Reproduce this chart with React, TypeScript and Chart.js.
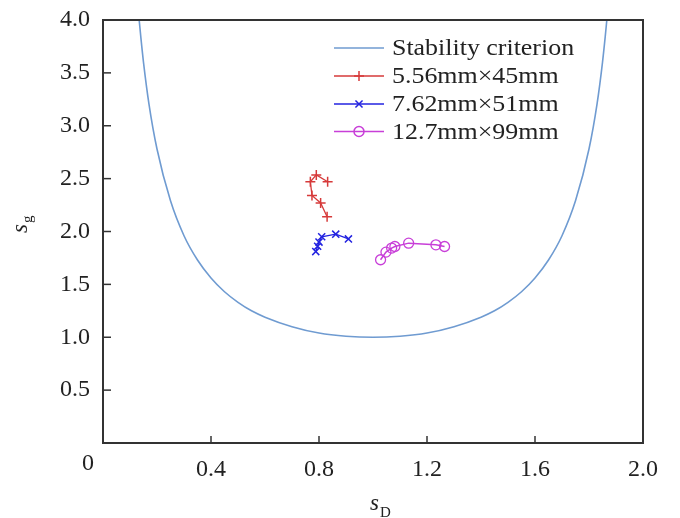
import React, { useEffect, useRef } from 'react';
import { Chart, registerables } from 'chart.js';
Chart.register(...registerables);

// Stability criterion curve
const criterionX = [0.134, 0.14, 0.15, 0.17, 0.2, 0.25, 0.3, 0.35, 0.4, 0.45, 0.5, 0.55, 0.6, 0.7, 0.8, 0.9, 1.0, 1.1, 1.2, 1.3, 1.4, 1.45, 1.5, 1.55, 1.6, 1.65, 1.7, 1.75, 1.8, 1.83, 1.85, 1.86, 1.866];
const criterionY = [4.0, 3.84, 3.6, 3.21, 2.78, 2.29, 1.96, 1.73, 1.56, 1.43, 1.33, 1.25, 1.19, 1.1, 1.04, 1.01, 1.0, 1.01, 1.04, 1.1, 1.19, 1.25, 1.33, 1.43, 1.56, 1.73, 1.96, 2.29, 2.78, 3.21, 3.6, 3.84, 4.0];

const redX = [0.832, 0.79, 0.768, 0.774, 0.806, 0.83];
const redY = [2.47, 2.535, 2.47, 2.34, 2.27, 2.14];

const blueX = [0.788, 0.795, 0.8, 0.81, 0.862, 0.909];
const blueY = [1.81, 1.86, 1.9, 1.95, 1.975, 1.93];

const magentaX = [1.028, 1.048, 1.069, 1.081, 1.132, 1.233, 1.265];
const magentaY = [1.733, 1.805, 1.843, 1.858, 1.89, 1.874, 1.858];

const seriesLabels = ['Stability criterion', '5.56mm\u00d745mm', '7.62mm\u00d751mm', '12.7mm\u00d799mm'];
const xTickLabels = ['0', '0.4', '0.8', '1.2', '1.6', '2.0'];
const yTickLabels = ['0', '0.5', '1.0', '1.5', '2.0', '2.5', '3.0', '3.5', '4.0'];

const FONT = 'Liberation Serif, Times New Roman, serif';
const TEXT = '#222';
const CRIT = '#6f9bd1';
const RED = '#d63a3a';
const BLUE = '#2323e0';
const MAG = '#c83fd8';

const toPts = (xs: number[], ys: number[]) => xs.map((x, i) => ({ x, y: ys[i] }));

const decor = {
  id: 'decor',
  afterDraw(chart: any) {
    const { ctx, chartArea: a, scales } = chart;
    const x = scales.x, y = scales.y;
    ctx.save();
    // frame
    ctx.strokeStyle = '#333';
    ctx.lineWidth = 2;
    ctx.strokeRect(a.left, a.top, a.right - a.left, a.bottom - a.top);
    // inward ticks
    ctx.lineWidth = 1.5;
    x.ticks.forEach((t: any) => {
      if (t.value <= 0 || t.value >= 2) return;
      const px = x.getPixelForValue(t.value);
      ctx.beginPath(); ctx.moveTo(px, a.bottom); ctx.lineTo(px, a.bottom - 7); ctx.stroke();
    });
    y.ticks.forEach((t: any) => {
      if (t.value <= 0 || t.value >= 4) return;
      const py = y.getPixelForValue(t.value);
      ctx.beginPath(); ctx.moveTo(a.left, py); ctx.lineTo(a.left + 8, py); ctx.stroke();
    });
    // corner zero
    ctx.fillStyle = TEXT;
    ctx.font = `24px ${FONT}`;
    ctx.textAlign = 'center';
    ctx.textBaseline = 'middle';
    ctx.fillText(xTickLabels[0], a.left - 15, a.bottom + 21);

    // x title s_D
    ctx.textAlign = 'left';
    ctx.textBaseline = 'alphabetic';
    ctx.font = `italic 23px ${FONT}`;
    const sx = 370;
    ctx.fillText('s', sx, 510);
    const sw = ctx.measureText('s').width;
    ctx.font = `15px ${FONT}`;
    ctx.fillText('D', sx + sw + 1, 517);

    // y title s_g (rotated)
    ctx.save();
    ctx.translate(27, 233);
    ctx.rotate(-Math.PI / 2);
    ctx.font = `italic 23px ${FONT}`;
    ctx.fillText('s', 0, 0);
    const sw2 = ctx.measureText('s').width;
    ctx.font = `15px ${FONT}`;
    ctx.fillText('g', sw2 + 1, 5);
    ctx.restore();

    // legend
    const lx0 = 334, lx1 = 384, tx = 392;
    const rows = [48, 76, 104, 131.5];
    chart.data.datasets.forEach((ds: any, i: number) => {
      const ry = rows[i];
      ctx.strokeStyle = ds.borderColor;
      ctx.lineWidth = 1.5;
      ctx.beginPath(); ctx.moveTo(lx0, ry); ctx.lineTo(lx1, ry); ctx.stroke();
      if (ds.pointRadius > 0) {
        const cx = (lx0 + lx1) / 2, r = ds.pointRadius;
        ctx.strokeStyle = ds.pointBorderColor || ds.borderColor;
        ctx.beginPath();
        if (ds.pointStyle === 'cross') {
          ctx.moveTo(cx - r, ry); ctx.lineTo(cx + r, ry); ctx.moveTo(cx, ry - r); ctx.lineTo(cx, ry + r);
        } else if (ds.pointStyle === 'crossRot') {
          const d = r * 0.707;
          ctx.moveTo(cx - d, ry - d); ctx.lineTo(cx + d, ry + d); ctx.moveTo(cx - d, ry + d); ctx.lineTo(cx + d, ry - d);
        } else {
          ctx.arc(cx, ry, r, 0, Math.PI * 2);
        }
        ctx.stroke();
      }
      ctx.save();
      ctx.translate(tx, ry + 1);
      ctx.scale(1.08, 1);
      ctx.fillStyle = TEXT;
      ctx.font = `24px ${FONT}`;
      ctx.textBaseline = 'middle';
      ctx.fillText(ds.label, 0, 0);
      ctx.restore();
    });
    ctx.restore();
  },
};

export default function App() {
  const ref = useRef<HTMLCanvasElement>(null);
  useEffect(() => {
    document.body.style.margin = '0';
    const chart = new Chart(ref.current as HTMLCanvasElement, {
      type: 'line',
      data: {
        datasets: [
          {
            label: seriesLabels[0],
            data: toPts(criterionX, criterionY),
            borderColor: CRIT,
            borderWidth: 1.6,
            pointRadius: 0,
            cubicInterpolationMode: 'monotone',
            fill: false,
          },
          {
            label: seriesLabels[1],
            data: toPts(redX, redY),
            borderColor: RED,
            borderWidth: 1.3,
            pointStyle: 'cross',
            pointRadius: 5,
            pointBorderColor: RED,
            pointBorderWidth: 1.5,
            tension: 0,
            fill: false,
          },
          {
            label: seriesLabels[2],
            data: toPts(blueX, blueY),
            borderColor: BLUE,
            borderWidth: 1.3,
            pointStyle: 'crossRot',
            pointRadius: 5,
            pointBorderColor: BLUE,
            pointBorderWidth: 1.5,
            tension: 0,
            fill: false,
          },
          {
            label: seriesLabels[3],
            data: toPts(magentaX, magentaY),
            borderColor: MAG,
            borderWidth: 1.5,
            pointStyle: 'circle',
            pointRadius: 5,
            pointBackgroundColor: 'rgba(0,0,0,0)',
            pointBorderColor: MAG,
            pointBorderWidth: 1.3,
            tension: 0,
            fill: false,
          },
        ] as any,
      },
      options: {
        responsive: false,
        animation: false,
        devicePixelRatio: 1,
        layout: { padding: { left: 0, right: 37, top: 20, bottom: 0 } },
        plugins: { legend: { display: false }, tooltip: { enabled: false } },
        scales: {
          x: {
            type: 'linear',
            min: 0,
            max: 2,
            ticks: {
              stepSize: 0.4,
              padding: 4,
              color: TEXT,
              font: { family: FONT, size: 24 },
              callback: (v: any) => {
                const i = Math.round(Number(v) / 0.4);
                return i === 0 ? '' : xTickLabels[i];
              },
            },
            grid: { display: false },
            border: { display: false },
            afterFit: (s: any) => { s.height = 75; },
          },
          y: {
            type: 'linear',
            min: 0,
            max: 4,
            ticks: {
              stepSize: 0.5,
              padding: 5,
              color: TEXT,
              font: { family: FONT, size: 24 },
              callback: (v: any) => {
                const i = Math.round(Number(v) / 0.5);
                return i === 0 ? '' : yTickLabels[i];
              },
            },
            grid: { display: false },
            border: { display: false },
            afterFit: (s: any) => { s.width = 103; },
          },
        },
      } as any,
      plugins: [decor],
    });
    return () => chart.destroy();
  }, []);
  return (
    <div style={{ position: 'absolute', left: 0, top: 0, width: 680, height: 518, background: '#fff' }}>
      <canvas ref={ref} width={680} height={518} />
    </div>
  );
}
